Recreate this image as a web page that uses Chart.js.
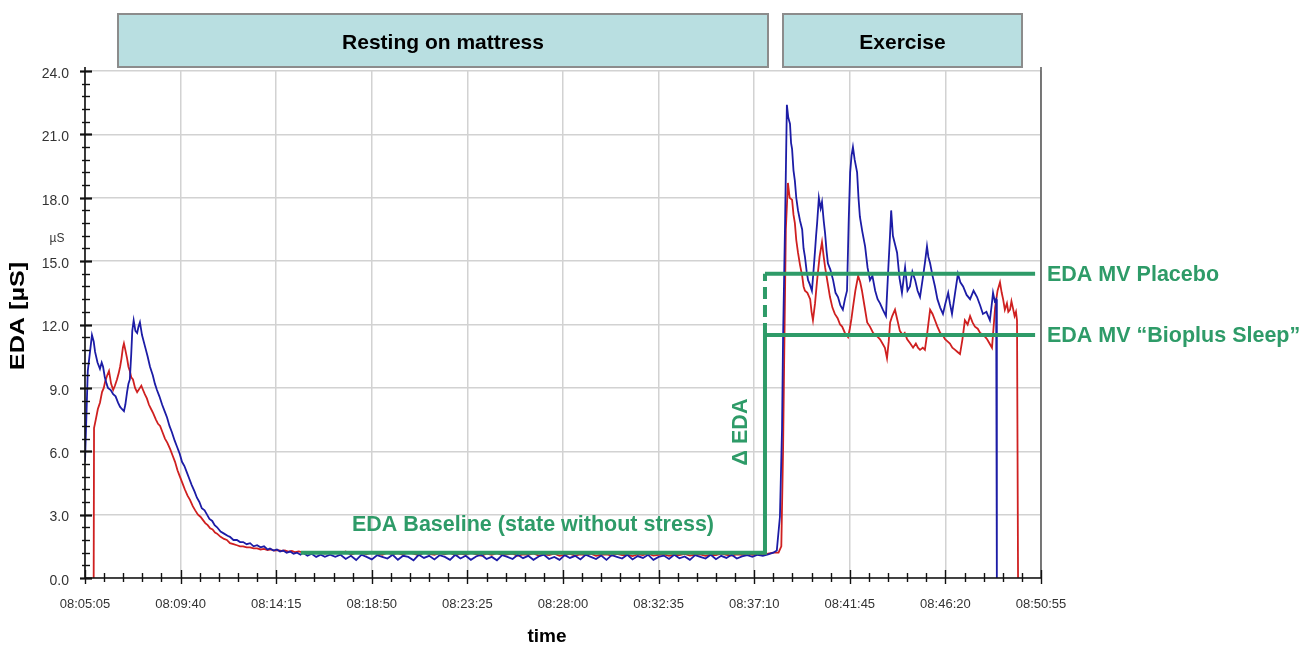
<!DOCTYPE html>
<html>
<head>
<meta charset="utf-8">
<script src="https://cdn.jsdelivr.net/npm/chart.js@4.4.1/dist/chart.umd.min.js"></script>
<style>
  html, body { margin: 0; padding: 0; background: #ffffff; }
  #wrap { width: 1313px; height: 648px; }
</style>
</head>
<body>
<div id="wrap"><canvas id="c" width="1313" height="648"></canvas></div>
<script>
// ---- Data (time in seconds after 08:05:05, EDA in µS) ----
const startClock = [8, 5, 5];
const xTickStep = 275;          // 4:35
const xMax = 2750;              // 08:50:55
const yTickStep = 3;
const yMax = 24;

// Placebo (blue) - rising & decline phase
const blueEarlyT = [0, 8, 20, 25, 29, 36, 43, 48, 52, 57, 62, 66, 74, 81, 88, 95, 101, 106, 112, 116, 121, 125, 129, 133, 136, 140, 145, 150, 154, 158, 161, 164, 172, 180, 187, 195, 201, 207, 214, 222, 229, 236, 243, 250, 258, 265, 272, 279, 286, 293, 300, 307, 315, 322, 329, 336, 344, 351, 358, 366, 373, 380, 390, 400, 410, 417, 427, 437, 446, 455, 465, 475, 485, 495, 505, 515, 525, 532, 542, 552, 561, 570, 580, 590, 600, 610, 620, 627, 640, 652, 665, 678, 690, 705];
const blueEarlyV = [5.5, 9.8, 11.5, 11.2, 10.7, 10.2, 9.9, 10.2, 10.0, 9.5, 9.2, 9.0, 8.9, 8.7, 8.6, 8.3, 8.1, 8.0, 7.9, 8.2, 8.8, 9.2, 9.4, 10.6, 11.7, 12.2, 11.7, 11.6, 11.9, 12.1, 11.8, 11.5, 11.0, 10.5, 10.0, 9.6, 9.2, 8.9, 8.6, 8.2, 7.9, 7.6, 7.2, 6.9, 6.5, 6.2, 5.9, 5.5, 5.3, 5.0, 4.7, 4.4, 4.1, 3.8, 3.6, 3.3, 3.2, 3.0, 2.8, 2.7, 2.5, 2.4, 2.2, 2.1, 2.0, 1.95, 1.8, 1.8, 1.7, 1.7, 1.6, 1.65, 1.5, 1.55, 1.45, 1.5, 1.35, 1.4, 1.3, 1.35, 1.25, 1.3, 1.2, 1.25, 1.15, 1.2, 1.1, 1.2, 1.05, 1.15, 1.0, 1.1, 1.0, 1.1];
// Placebo (blue) - resting baseline, one reading every 15 s from 720 s
const flatStartT = 720;
const flatStepT = 15;
const blueFlatV = [1.0,1.1,0.9,1.05,0.85,1.1,1.0,0.88,1.08,1.0, 0.92,1.1,0.86,1.05,1.0,0.84,1.1,0.95,1.05,0.88, 1.08,1.0,0.86,1.1,0.92,1.05,0.86,1.02,1.1,0.9, 1.0,0.84,1.08,1.0,0.9,1.1,0.94,1.05,0.86,1.02, 1.1,0.9,1.0,0.86,1.08,0.95,1.05,0.88,1.1,1.0, 0.9,1.06,0.86,1.08,1.0,0.92,1.1,0.88,1.04,0.95, 1.1,0.86,1.0,1.06,0.9,1.1,0.93,1.02,0.86,1.08, 1.0,0.92,1.1,0.89,1.05,0.95,1.1,0.92,1.02,1.08, 1.0,1.1,1.05,1.12,1.2];
// Placebo (blue) - exercise
const blueExT = [1990, 1999, 2005, 2008, 2014, 2019, 2023, 2028, 2031, 2034, 2038, 2042, 2046, 2051, 2057, 2063, 2067, 2071, 2076, 2080, 2085, 2091, 2095, 2100, 2103, 2106, 2111, 2116, 2120, 2125, 2129, 2133, 2137, 2144, 2152, 2159, 2166, 2173, 2180, 2186, 2192, 2197, 2201, 2205, 2209, 2214, 2221, 2225, 2229, 2236, 2244, 2251, 2258, 2265, 2273, 2280, 2287, 2295, 2304, 2310, 2315, 2319, 2324, 2330, 2336, 2343, 2350, 2355, 2359, 2366, 2373, 2380, 2388, 2395, 2402, 2410, 2416, 2422, 2426, 2431, 2438, 2445, 2452, 2460, 2468, 2475, 2483, 2488, 2494, 2502, 2511, 2518, 2526, 2536, 2546, 2556, 2566, 2575, 2583, 2593, 2603, 2608, 2612, 2617, 2621, 2623];
const blueExV = [1.3, 2.9, 7.0, 11.3, 17.0, 22.4, 21.8, 21.5, 20.6, 20.3, 19.3, 18.8, 18.0, 17.4, 16.9, 16.5, 15.6, 15.2, 14.5, 14.1, 13.9, 13.6, 14.4, 15.5, 16.2, 16.8, 18.0, 17.5, 17.8, 16.9, 16.3, 15.5, 14.9, 14.6, 14.1, 13.5, 13.3, 12.9, 12.7, 13.2, 13.6, 17.0, 19.2, 20.0, 20.4, 19.8, 19.2, 18.0, 17.1, 16.4, 15.7, 14.7, 14.1, 14.3, 13.6, 13.2, 13.0, 12.7, 12.4, 14.4, 16.0, 17.4, 16.2, 15.8, 15.4, 14.2, 13.5, 14.2, 14.7, 13.6, 13.8, 14.5, 14.1, 13.6, 13.3, 14.2, 14.9, 15.7, 15.2, 14.9, 14.3, 13.8, 13.2, 12.8, 12.5, 13.0, 13.5, 13.0, 12.5, 13.4, 14.4, 14.0, 13.8, 13.4, 13.2, 13.6, 13.3, 12.9, 12.5, 12.6, 12.2, 12.9, 13.5, 13.1, 13.2, 0];

// "Bioplus Sleep" (red) - rising & decline phase
const redEarlyT = [25, 26, 31, 37, 43, 49, 54, 58, 64, 69, 75, 81, 86, 92, 97, 101, 105, 109, 112, 116, 121, 125, 129, 133, 138, 144, 150, 154, 158, 162, 167, 172, 178, 184, 190, 196, 204, 210, 216, 223, 230, 237, 245, 252, 259, 266, 273, 280, 287, 295, 302, 310, 317, 325, 332, 339, 346, 353, 360, 367, 374, 380, 390, 400, 408, 417, 427, 437, 446, 455, 465, 475, 485, 495, 505, 515, 525, 535, 545, 555, 565, 575, 585, 595, 605, 615, 630, 645, 660, 675, 690, 705];
const redEarlyV = [0, 7.1, 7.5, 8.0, 8.3, 8.8, 9.0, 9.3, 9.6, 9.8, 9.2, 8.9, 9.1, 9.4, 9.7, 10.0, 10.4, 10.9, 11.1, 10.8, 10.4, 10.0, 9.8, 9.5, 9.4, 9.0, 8.8, 8.9, 9.0, 9.1, 8.9, 8.7, 8.5, 8.2, 8.0, 7.8, 7.5, 7.3, 7.2, 6.9, 6.6, 6.4, 6.1, 5.8, 5.5, 5.1, 4.8, 4.5, 4.2, 3.9, 3.7, 3.4, 3.2, 3.0, 2.9, 2.75, 2.6, 2.5, 2.35, 2.3, 2.15, 2.1, 1.95, 1.85, 1.8, 1.65, 1.6, 1.55, 1.5, 1.5, 1.45, 1.45, 1.4, 1.4, 1.35, 1.38, 1.32, 1.35, 1.3, 1.32, 1.28, 1.3, 1.25, 1.28, 1.22, 1.26, 1.2, 1.24, 1.18, 1.22, 1.16, 1.2];
// "Bioplus Sleep" (red) - resting baseline, one reading every 15 s from 720 s
const redFlatV = [1.2,1.15,1.25,1.1,1.2,1.18,1.12,1.22,1.15,1.1, 1.2,1.12,1.18,1.1,1.22,1.15,1.08,1.2,1.14,1.1, 1.18,1.12,1.2,1.08,1.15,1.1,1.2,1.12,1.05,1.15, 1.1,1.18,1.08,1.12,1.15,1.05,1.12,1.1,1.16,1.06, 1.12,1.08,1.15,1.05,1.1,1.14,1.06,1.12,1.08,1.15, 1.05,1.1,1.12,1.06,1.14,1.08,1.1,1.04,1.12,1.08, 1.15,1.06,1.1,1.12,1.05,1.1,1.08,1.14,1.06,1.1, 1.12,1.05,1.1,1.08,1.15,1.1,1.06,1.12,1.1,1.15, 1.1,1.12,1.08,1.15,1.2];
// "Bioplus Sleep" (red) - exercise
const redExT = [1995, 2003, 2008, 2011, 2016, 2022, 2027, 2034, 2038, 2042, 2046, 2051, 2057, 2063, 2067, 2071, 2078, 2086, 2090, 2094, 2100, 2106, 2113, 2120, 2125, 2129, 2136, 2143, 2150, 2157, 2165, 2172, 2178, 2186, 2195, 2200, 2205, 2209, 2216, 2224, 2230, 2235, 2242, 2250, 2258, 2267, 2275, 2281, 2287, 2294, 2301, 2307, 2312, 2316, 2322, 2330, 2337, 2344, 2352, 2358, 2365, 2374, 2382, 2390, 2396, 2402, 2410, 2416, 2422, 2431, 2438, 2445, 2452, 2460, 2467, 2474, 2481, 2488, 2495, 2503, 2510, 2517, 2524, 2531, 2539, 2546, 2553, 2560, 2568, 2575, 2585, 2595, 2602, 2609, 2618, 2625, 2632, 2637, 2641, 2646, 2652, 2656, 2661, 2665, 2669, 2674, 2678, 2681, 2684];
const redExV = [1.2, 1.5, 6.0, 10.0, 16.5, 18.7, 18.0, 17.9, 17.2, 16.8, 16.0, 15.4, 14.8, 14.3, 13.8, 13.6, 13.5, 13.2, 12.6, 12.2, 13.0, 14.1, 15.2, 15.9, 15.2, 14.7, 14.0, 13.3, 12.8, 12.5, 12.3, 12.0, 11.9, 11.6, 11.4, 11.8, 12.3, 12.8, 13.6, 14.3, 14.0, 13.6, 12.9, 12.1, 11.9, 11.6, 11.5, 11.4, 11.3, 11.1, 10.9, 10.4, 11.2, 12.1, 12.4, 12.7, 12.2, 11.7, 11.5, 11.6, 11.3, 11.1, 10.9, 11.1, 10.9, 10.8, 10.9, 10.8, 11.5, 12.7, 12.5, 12.2, 11.9, 11.6, 11.5, 11.3, 11.2, 11.1, 10.9, 10.8, 10.7, 10.6, 11.3, 12.2, 12.0, 12.4, 12.1, 11.9, 11.8, 11.6, 11.5, 11.3, 11.1, 10.9, 12.8, 13.6, 14.0, 13.5, 13.2, 12.7, 13.0, 12.6, 12.7, 13.1, 12.8, 12.4, 12.6, 12.2, 0];

// Annotation levels (µS) and time span
const baselineLevel = 1.2;
const placeboMean = 14.4;
const bioplusMean = 11.5;
const baselineStartT = 621;
const deltaT = 1956;
const meanEndT = 2733;

// ---- helpers ----
function pts(ts, vs) { return ts.map((t, i) => ({ x: t, y: vs[i] })); }
function flatPts(vs) { return vs.map((v, i) => ({ x: flatStartT + i * flatStepT, y: v })); }
function fmtTime(sec) {
  let s = startClock[0] * 3600 + startClock[1] * 60 + startClock[2] + Math.round(sec);
  const h = Math.floor(s / 3600); s -= h * 3600;
  const m = Math.floor(s / 60); s -= m * 60;
  const p = n => String(n).padStart(2, '0');
  return p(h) + ':' + p(m) + ':' + p(s);
}

const blueData = pts(blueEarlyT, blueEarlyV).concat(flatPts(blueFlatV), pts(blueExT, blueExV));
const redData = pts(redEarlyT, redEarlyV).concat(flatPts(redFlatV), pts(redExT, redExV));

const GREEN = '#2e9b68';
const FONT = "'Liberation Sans', Arial, sans-serif";

const decorPlugin = {
  id: 'decor',
  beforeDraw(chart) {
    const ctx = chart.ctx;
    ctx.save();
    ctx.fillStyle = '#ffffff';
    ctx.fillRect(0, 0, chart.width, chart.height);
    ctx.restore();
  },
  afterDatasetsDraw(chart) {
    const ctx = chart.ctx;
    const xs = chart.scales.x, ys = chart.scales.y;
    const L = xs.left, R = xs.right, T = ys.top, B = ys.bottom;
    ctx.save();
    // right frame line
    ctx.strokeStyle = '#555555';
    ctx.lineWidth = 1.5;
    ctx.beginPath(); ctx.moveTo(R, T - 4); ctx.lineTo(R, B); ctx.stroke();
    // axes
    ctx.strokeStyle = '#111111';
    ctx.lineWidth = 1.6;
    ctx.beginPath(); ctx.moveTo(L, T - 4); ctx.lineTo(L, B); ctx.lineTo(R, B); ctx.stroke();
    // y ticks
    for (let v = 0; v <= yMax + 1e-9; v += 0.6) {
      const y = Math.round(ys.getPixelForValue(v)) + 0.5;
      const major = Math.abs(v / yTickStep - Math.round(v / yTickStep)) < 1e-6;
      ctx.lineWidth = major ? 2.2 : 1.4;
      ctx.beginPath();
      ctx.moveTo(L - (major ? 5 : 3), y); ctx.lineTo(L + (major ? 7 : 5), y);
      ctx.stroke();
    }
    // x ticks
    for (let t = 0; t <= xMax + 1e-9; t += 55) {
      const x = Math.round(xs.getPixelForValue(t)) + 0.5;
      const major = t % xTickStep === 0;
      ctx.lineWidth = 1.4;
      ctx.beginPath();
      ctx.moveTo(x, B - (major ? 8 : 5)); ctx.lineTo(x, B + (major ? 6 : 4));
      ctx.stroke();
    }
    ctx.restore();
  },
  afterDraw(chart) {
    const ctx = chart.ctx;
    ctx.save();
    // phase banners
    const banners = [
      { x0: 118, x1: 768, label: 'Resting on mattress' },
      { x0: 783, x1: 1022, label: 'Exercise' }
    ];
    banners.forEach(b => {
      ctx.fillStyle = '#b9dfe1';
      ctx.fillRect(b.x0, 14, b.x1 - b.x0, 53);
      ctx.strokeStyle = '#8c8c8c';
      ctx.lineWidth = 2;
      ctx.strokeRect(b.x0, 14, b.x1 - b.x0, 53);
      ctx.fillStyle = '#000000';
      ctx.font = 'bold 21px ' + FONT;
      ctx.textAlign = 'center';
      ctx.textBaseline = 'middle';
      ctx.fillText(b.label, (b.x0 + b.x1) / 2, 43);
    });
    // unit label
    ctx.fillStyle = '#333333';
    ctx.font = '12px ' + FONT;
    ctx.textAlign = 'center';
    ctx.fillText('µS', 57, 239);
    // axis titles
    ctx.fillStyle = '#000000';
    ctx.font = 'bold 19px ' + FONT;
    ctx.fillText('time', 547, 637);
    ctx.save();
    ctx.translate(18, 316);
    ctx.rotate(-Math.PI / 2);
    ctx.scale(1.2, 1);
    ctx.font = 'bold 21px ' + FONT;
    ctx.fillText('EDA [µS]', 0, 0);
    ctx.restore();
    // green annotations
    ctx.fillStyle = GREEN;
    ctx.font = 'bold 21.5px ' + FONT;
    ctx.textAlign = 'center';
    ctx.fillText('EDA Baseline (state without stress)', 533, 525);
    ctx.textAlign = 'left';
    ctx.fillText('EDA MV Placebo', 1047, 275);
    ctx.fillText('EDA MV \u201CBioplus Sleep\u201D', 1047, 336);
    ctx.save();
    ctx.translate(741, 432);
    ctx.rotate(-Math.PI / 2);
    ctx.textAlign = 'center';
    ctx.fillText('\u0394 EDA', 0, 0);
    ctx.restore();
    ctx.restore();
  }
};

const greenLine = (data, dash) => ({
  data, borderColor: GREEN, borderWidth: 4, pointRadius: 0, fill: false,
  borderDash: dash || [], borderCapStyle: 'butt', borderJoinStyle: 'miter'
});

new Chart(document.getElementById('c'), {
  type: 'line',
  data: {
    datasets: [
      greenLine([{ x: baselineStartT, y: baselineLevel }, { x: deltaT, y: baselineLevel }, { x: deltaT, y: bioplusMean }]),
      greenLine([{ x: deltaT, y: bioplusMean }, { x: deltaT, y: placeboMean }], [12, 6]),
      greenLine([{ x: deltaT, y: placeboMean }, { x: meanEndT, y: placeboMean }]),
      greenLine([{ x: deltaT, y: bioplusMean }, { x: meanEndT, y: bioplusMean }]),
      { label: 'Placebo', data: blueData, borderColor: '#1c1ca6', borderWidth: 1.8, pointRadius: 0, fill: false },
      { label: 'Bioplus Sleep', data: redData, borderColor: '#cf2020', borderWidth: 1.8, pointRadius: 0, fill: false }
    ]
  },
  options: {
    responsive: false,
    animation: false,
    layout: { padding: { left: 0, top: 71, right: 272, bottom: 0 } },
    plugins: { legend: { display: false }, tooltip: { enabled: false } },
    elements: { line: { tension: 0 }, point: { radius: 0 } },
    scales: {
      x: {
        type: 'linear', min: 0, max: xMax,
        ticks: { stepSize: xTickStep, callback: v => fmtTime(v), autoSkip: false, maxRotation: 0,
                 color: '#333333', font: { family: FONT, size: 13 }, padding: 19 },
        grid: { color: '#d2d2d2', lineWidth: 1.5, drawTicks: false },
        border: { display: false },
        afterFit: s => { s.height = 70; }
      },
      y: {
        min: 0, max: yMax,
        ticks: { stepSize: yTickStep, callback: v => Number(v).toFixed(1), labelOffset: 3,
                 color: '#333333', font: { family: FONT, size: 14 }, padding: 16 },
        grid: { color: '#d2d2d2', lineWidth: 1.5, drawTicks: false },
        border: { display: false },
        afterFit: s => { s.width = 85; }
      }
    }
  },
  plugins: [decorPlugin]
});
</script>
